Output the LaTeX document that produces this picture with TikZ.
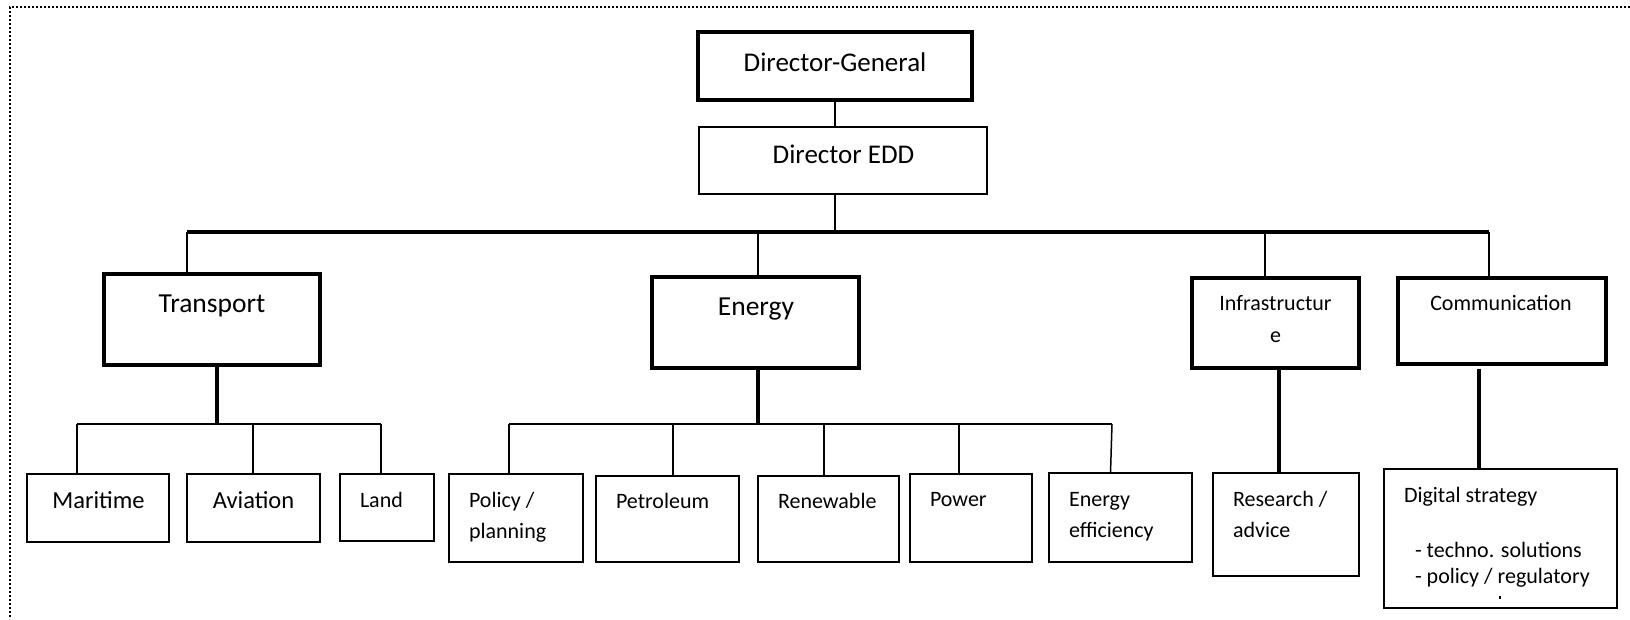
\documentclass[tikz,border=0pt]{standalone}
\usepackage{fontspec}
\setmainfont{Carlito}
\begin{document}
\begin{tikzpicture}[x=1pt,y=-1pt,
  thickbox/.style={draw=black,line width=3.4pt,rectangle,inner sep=0pt,outer sep=0pt},
  thinbox/.style={draw=black,line width=1.5pt,rectangle,inner sep=0pt,outer sep=0pt},
  thinc/.style={draw=black,line width=1.5pt},
  thickc/.style={draw=black,line width=3.4pt},
  busline/.style={draw=black,line width=4.6pt},
  txt/.style={inner sep=0pt,outer sep=0pt,text=black},
  fa/.style={txt,font=\fontsize{27.5}{33}\selectfont},
  fb/.style={txt,font=\fontsize{27}{32}\selectfont},
  fc/.style={txt,font=\fontsize{24.5}{29}\selectfont},
  fd/.style={txt,font=\fontsize{22}{26.4}\selectfont}]
\useasboundingbox (0,0) rectangle (1630,619);
% dotted frame
\draw[line width=2.4pt,dash pattern=on 2.2pt off 1.8pt] (1630,7) -- (10,7) -- (10,619);

% boxes
\node[thickbox,anchor=north west,minimum width=274pt,minimum height=68pt] (dg) at (698,32) {};
\node[thinbox,anchor=north west,minimum width=288pt,minimum height=67pt] (edd) at (699,127) {};
\node[thickbox,anchor=north west,minimum width=216pt,minimum height=91pt] (transport) at (104,274) {};
\node[thickbox,anchor=north west,minimum width=207pt,minimum height=91pt] (energy) at (652,277) {};
\node[thickbox,anchor=north west,minimum width=167pt,minimum height=90pt] (infra) at (1192,278) {};
\node[thickbox,anchor=north west,minimum width=208pt,minimum height=86pt] (comm) at (1398,278) {};
\node[thinbox,anchor=north west,minimum width=142pt,minimum height=68pt] (maritime) at (27,474) {};
\node[thinbox,anchor=north west,minimum width=133pt,minimum height=68pt] (aviation) at (187,474) {};
\node[thinbox,anchor=north west,minimum width=94pt,minimum height=67pt] (land) at (340,474) {};
\node[thinbox,anchor=north west,minimum width=134pt,minimum height=88pt] (policy) at (449,474) {};
\node[thinbox,anchor=north west,minimum width=143pt,minimum height=86pt] (petroleum) at (596,476) {};
\node[thinbox,anchor=north west,minimum width=141pt,minimum height=86pt] (renewable) at (758,476) {};
\node[thinbox,anchor=north west,minimum width=122pt,minimum height=88pt] (power) at (910,474) {};
\node[thinbox,anchor=north west,minimum width=143pt,minimum height=89pt] (eff) at (1049,473) {};
\node[thinbox,anchor=north west,minimum width=146pt,minimum height=103pt] (research) at (1213,473) {};
\node[thinbox,anchor=north west,minimum width=233pt,minimum height=139pt] (digital) at (1384,469) {};

% texts
\node[fb,anchor=base] (tdg) at (835,71) {Director-General};
\node[fb,anchor=base] (tedd) at (843.5,163) {Director EDD};
\node[fa,anchor=base] (ttransport) at (212,312) {Transport};
\node[fa,anchor=base] (tenergy) at (756,315) {Energy};
\node[fd,anchor=base] (tinfra1) at (1275.5,310) {Infrastructur};
\node[fd,anchor=base] (tinfra2) at (1275.5,342) {e};
\node[fd,anchor=base] (tcomm) at (1501,310) {Communication};
\node[fc,anchor=base] (tmaritime) at (98.5,508) {Maritime};
\node[fc,anchor=base] (taviation) at (253.5,508) {Aviation};
\node[fd,anchor=base west] (tland) at (360,507) {Land};
\node[fd,anchor=base west] (tpolicy1) at (469,507) {Policy /};
\node[fd,anchor=base west] (tpolicy2) at (469,538) {planning};
\node[fd,anchor=base west] (tpetroleum) at (616,508) {Petroleum};
\node[fd,anchor=base west] (trenewable) at (778,508) {Renewable};
\node[fd,anchor=base west] (tpower) at (930,506) {Power};
\node[fd,anchor=base west] (teff1) at (1069,506) {Energy};
\node[fd,anchor=base west] (teff2) at (1069,537) {efficiency};
\node[fd,anchor=base west] (tres1) at (1233,506) {Research /};
\node[fd,anchor=base west] (tres2) at (1233,537) {advice};
\node[fd,anchor=base west] (tdig1) at (1404,502) {Digital strategy};
\node[fd,anchor=base west] (tdig2) at (1415,557) {- techno. solutions};
\node[fd,anchor=base west] (tdig3) at (1415,583) {- policy / regulatory};
\fill[black] (1499,596) rectangle (1501,598.5);

% connector coordinates
\coordinate (bT) at (187,232);
\coordinate (bE) at (758,232);
\coordinate (bI) at (1265,232);
\coordinate (bC) at (1489,232);
\coordinate (tj) at (217,424);
\coordinate (tm) at (77,424);
\coordinate (ta) at (253,424);
\coordinate (tl) at (381,424);
\coordinate (ej) at (758,424);
\coordinate (ep) at (509,424);
\coordinate (epe) at (673,424);
\coordinate (er) at (824,424);
\coordinate (epo) at (959,424);
\coordinate (eee) at (1112,424);
\coordinate (ix) at (1279,0);
\coordinate (cx) at (1479,0);

% top connectors
\draw[thinc] (dg.south) -- (dg.south |- edd.north);
\draw[thinc] (dg.south |- edd.south) -- (dg.south |- bT);
\draw[busline] (bT) -- (bC);
\draw[thinc] (bT) -- (bT |- transport.north);
\draw[thinc] (bE) -- (bE |- energy.north);
\draw[thinc] (bI) -- (bI |- infra.north);
\draw[thinc] (bC) -- (bC |- comm.north);

% transport branch
\draw[thickc] (tj |- transport.south) -- (tj);
\draw[thinc] (tm) -- (tl);
\draw[thinc] (tm) -- (tm |- maritime.north);
\draw[thinc] (ta) -- (ta |- aviation.north);
\draw[thinc] (tl) -- (tl |- land.north);

% energy branch
\draw[thickc] (ej |- energy.south) -- (ej);
\draw[thinc] (ep) -- (eee);
\draw[thinc] (ep) -- (ep |- policy.north);
\draw[thinc] (epe) -- (epe |- petroleum.north);
\draw[thinc] (er) -- (er |- renewable.north);
\draw[thinc] (epo) -- (epo |- power.north);
\draw[thinc] (eee) -- ([xshift=-1.5pt]eee |- eff.north);

% infrastructure and communication
\draw[thickc] (ix |- infra.south) -- (ix |- research.north);
\draw[thickc] ([yshift=-5pt]cx |- comm.south) -- (cx |- digital.north);
\end{tikzpicture}
\end{document}
